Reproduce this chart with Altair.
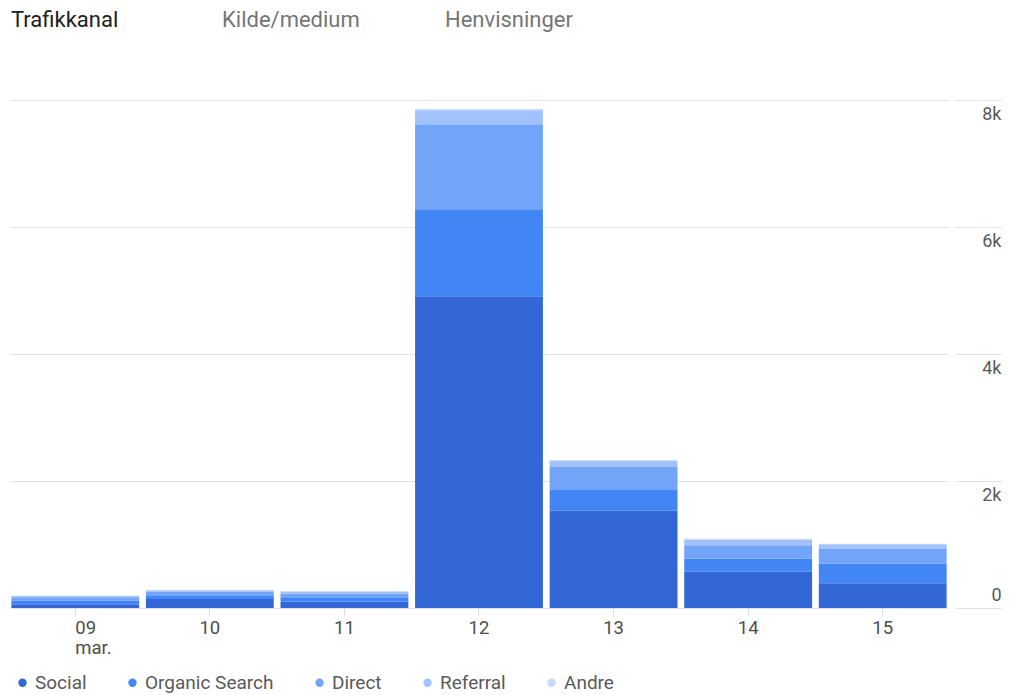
import altair as alt
import pandas as pd

days = ["09", "10", "11", "12", "13", "14", "15"]
series = ["Social", "Organic Search", "Direct", "Referral", "Andre"]
social = [60, 140, 100, 4910, 1530, 570, 390]
organic = [60, 50, 70, 1370, 330, 210, 310]
direct = [50, 70, 60, 1340, 360, 210, 230]
referral = [20, 20, 30, 220, 100, 90, 75]
andre = [3, 4, 4, 20, 10, 10, 8]
colors = ["#3367d6", "#4285f4", "#72a4f7", "#a1c2fa", "#c6dafc"]
tabs = ["Trafikkanal", "Kilde/medium", "Henvisninger"]
y_ticks = [0, 2000, 4000, 6000, 8000]

rows = []
for si, (name, vals) in enumerate(zip(series, [social, organic, direct, referral, andre])):
    for d, v in zip(days, vals):
        rows.append({"day": d, "channel": name, "value": v, "order": si})
df = pd.DataFrame(rows)

FONT = "Roboto"

bars = alt.Chart(df).mark_bar().encode(
    x=alt.X(
        "day:N", sort=days,
        scale=alt.Scale(paddingInner=0.05, paddingOuter=0.01),
        axis=alt.Axis(
            title=None, labelAngle=0, domain=False, grid=False,
            tickColor="#dadce0", tickSize=8, labelPadding=2,
            labelFontSize=18.5, labelColor="#4d4d4d", labelFont=FONT,
            labelExpr="datum.value == '09' ? ['09', 'mar.'] : datum.label",
            labelAlign={"condition": {"test": "datum.value == '09'", "value": "left"}, "value": "center"},
            labelLineHeight=20,
        ),
    ),
    y=alt.Y(
        "value:Q", stack="zero",
        scale=alt.Scale(domain=[0, 8000], nice=False),
        axis=alt.Axis(
            orient="right", title=None, values=y_ticks,
            labelExpr="datum.value == 0 ? '0' : (datum.value / 1000) + 'k'",
            domain=False, gridColor="#e3e3e3", tickColor="#e3e3e3",
            tickSize=48, offset=7, labelAlign="right",
            labelBaseline={"condition": {"test": "datum.value == 0", "value": "bottom"}, "value": "top"},
            labelOffset={"condition": {"test": "datum.value == 0", "value": -4}, "value": 5},
            labelPadding=-2, labelFontSize=18,
            labelColor="#5a5a5a", labelFont=FONT,
        ),
    ),
    color=alt.Color(
        "channel:N", sort=series,
        scale=alt.Scale(domain=series, range=colors),
        legend=alt.Legend(
            orient="none", legendX=3, legendY=573, direction="horizontal",
            title=None, symbolType="circle", symbolSize=70,
            labelFontSize=19, labelColor="#5a5a5a", labelFont=FONT,
            columnPadding=36, labelOffset=3, columns=5,
        ),
    ),
    order=alt.Order("order:Q", sort="ascending"),
)

tab_x = [1, 212, 435]
tab_colors = ["#212121", "#757575", "#757575"]
layers = [bars]
for t, tx, tc in zip(tabs, tab_x, tab_colors):
    layers.append(
        alt.Chart(pd.DataFrame({"t": [t]})).mark_text(
            align="left", baseline="middle", fontSize=22, font=FONT, color=tc
        ).encode(text="t:N", x=alt.value(tx), y=alt.value(-80))
    )

chart = alt.layer(*layers).properties(
    width=938, height=508,
    padding={"left": 2, "top": 92, "right": 54, "bottom": 87},
    autosize=alt.AutoSizeParams(type="none"),
).configure_view(stroke=None)

chart.save("out.html", embed_options={"renderer": "svg", "actions": False})
